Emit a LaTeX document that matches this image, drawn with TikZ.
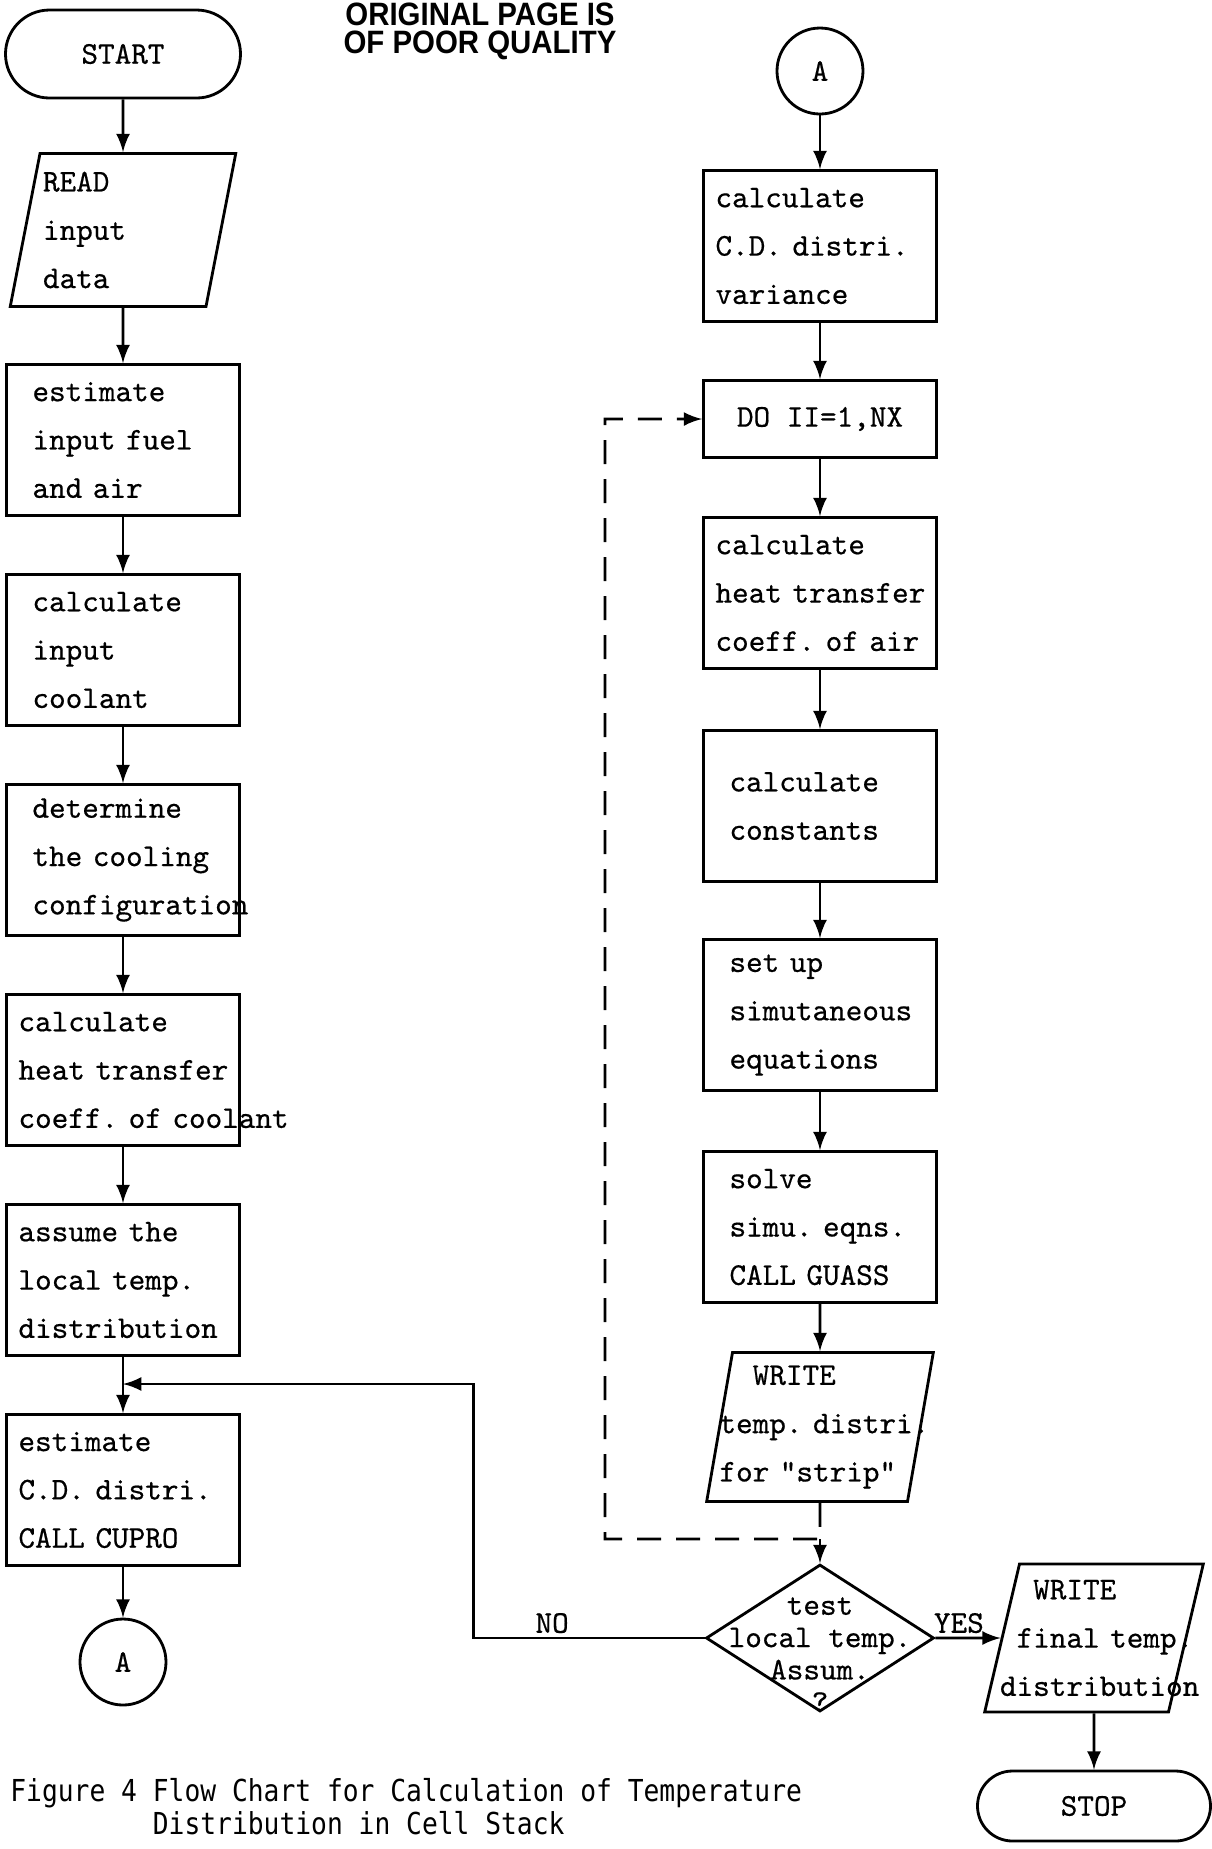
\documentclass[tikz,border=0pt]{standalone}
\usepackage{fontspec}
\usepackage{tikz}
\usetikzlibrary{positioning}
\usetikzlibrary{shapes.geometric}

\newfontfamily\capfont[FakeStretch=0.87]{DejaVu Sans Mono}
\newfontfamily\stampfont[FakeStretch=0.91]{Liberation Sans}
\newfontfamily\typefont[FakeBold=0.5]{lmmono10-regular.otf}
\newcommand{\boxfont}{\fontsize{9}{13.75}\selectfont\typefont}
\frenchspacing

\begin{document}
\begin{tikzpicture}[-latex, node distance = 2.1cm, on grid,
                    thick,
                    font = \boxfont,
                    proc/.style   = {rectangle,
                                     draw,
                                     minimum height = 1.51cm,
                                     text width = 1.81cm,
                                     inner xsep = 0.26cm,
                                     align = left},
                    tproc/.style  = {proc,
                                     text width = 2.09cm,
                                     inner xsep = 0.12cm},
                    io/.style     = {trapezium,
                                     trapezium left angle = 78,
                                     trapezium right angle = 102,
                                     trapezium stretches = true,
                                     draw,
                                     minimum height = 1.53cm,
                                     align = left},
                    term/.style   = {rectangle,
                                     draw,
                                     rounded corners = 0.44cm,
                                     minimum width = 2.35cm,
                                     minimum height = 0.88cm},
                    conn/.style   = {circle,
                                     draw,
                                     minimum size = 0.86cm,
                                     inner sep = 0pt},
                    decide/.style = {diamond,
                                     draw,
                                     minimum width = 2.28cm,
                                     minimum height = 1.47cm,
                                     inner sep = 0pt},
                    loopback/.style = {dash pattern = on 0.24cm off 0.15cm}]

\useasboundingbox (0,0) rectangle (12.11,-18.49);

% stamp and caption
\node[font = \stampfont\bfseries\fontsize{9.2}{9.7}\selectfont, anchor = base, inner sep = 0pt] (stampa) at (4.80,-0.25) {ORIGINAL PAGE IS};
\node[font = \stampfont\bfseries\fontsize{9.2}{9.7}\selectfont, anchor = base, inner sep = 0pt] (stampb) at (4.80,-0.53) {OF POOR QUALITY};
\node[font = \capfont\fontsize{8.6}{9.4}\selectfont, align = left, anchor = north west, inner sep = 0pt] (caption) at (0.09,-17.77) {Figure 4 Flow Chart for Calculation of Temperature\\\phantom{Figure 4 }Distribution in Cell Stack};

% left column
\node[term] (start) at (1.23,-0.54) {START};
\node[io, text width = 1.60cm, inner xsep = 0.03cm] (read) [below = 1.76cm of start] {READ\\input\\data};
\node[proc] (fuel) [below = of read] {estimate\\input fuel\\and air};
\node[proc] (coolant) [below = of fuel] {calculate\\input\\coolant};
\node[proc] (config) [below = of coolant] {determine\\\mbox{the cooling}\\\mbox{configuration}};
\node[tproc] (hcoolant) [below = of config] {calculate\\\mbox{heat transfer}\\\mbox{coeff. of coolant}};
\node[tproc] (assume) [below = of hcoolant] {assume the\\local temp.\\distribution};
\node[tproc] (estcd) [below = of assume] {estimate\\C.D. distri.\\CALL CUPRO};
\node[conn] (conA) [below = 1.72cm of estcd] {A};
\coordinate[below = 1.04cm of assume] (merge);

% right column
\node[conn] (conB) at (8.2,-0.71) {A};
\node[tproc] (cdvar) [below = 1.75cm of conB] {calculate\\C.D. distri.\\variance};
\node[rectangle, draw, minimum width = 2.33cm, minimum height = 0.77cm] (doloop) [below = 1.73cm of cdvar] {DO II=1,NX};
\node[tproc] (hair) [below = 1.74cm of doloop] {calculate\\\mbox{heat transfer}\\\mbox{coeff. of air}};
\node[proc] (consts) [below = 2.13cm of hair] {calculate\\constants};
\node[proc] (setup) [below = 2.09cm of consts] {set up\\\mbox{simutaneous}\\equations};
\node[proc] (solve) [below = 2.12cm of setup] {solve\\\mbox{simu. eqns.}\\CALL GUASS};
\node[io, trapezium left angle = 80, trapezium right angle = 100, minimum height = 1.49cm,
      text width = 2.01cm, inner xsep = -0.13cm] (wstrip) [below = 2.0cm of solve] {\phantom{xx}WRITE\\\mbox{temp. distri.}\\for "strip"};
\coordinate[below = 1.12cm of wstrip] (loopend);
\node[decide, label = {[yshift = -0.165cm, align = center, font = \fontsize{9}{9.2}\selectfont\typefont]center:{test\\local temp.\\Assum.\\?}}] (test) [below = 2.11cm of wstrip] {};
\node[io, trapezium left angle = 76, trapezium right angle = 104, minimum height = 1.48cm,
      text width = 1.88cm, inner xsep = -0.195cm] (wfinal) [right = 2.74cm of test] {\phantom{xx}WRITE\\\mbox{\phantom{x}final temp.}\\\mbox{distribution}};
\node[term, minimum width = 2.33cm, minimum height = 0.70cm, rounded corners = 0.35cm] (stop) [below = 1.68cm of wfinal] {STOP};

\path (start) edge (read);
\path (read) edge (fuel);
\path (fuel) edge (coolant);
\path (coolant) edge (config);
\path (config) edge (hcoolant);
\path (hcoolant) edge (assume);
\path (assume) edge (estcd);
\path (estcd) edge (conA);

\path (conB) edge (cdvar);
\path (cdvar) edge (doloop);
\path (doloop) edge (hair);
\path (hair) edge (consts);
\path (consts) edge (setup);
\path (setup) edge (solve);
\path (solve) edge (wstrip);
\path (loopend) edge (test);
\path (test) edge node[above, pos = 0.36, inner sep = 1pt] {YES} (wfinal);
\path (wfinal) edge (stop);

% loop back to DO
\draw[loopback] (wstrip.south) -- (loopend) -- ++(-2.15,0) |- (doloop.west);
\draw (test.west) -- node[above, pos = 0.66, inner sep = 1pt] {NO} ++(-2.31,0) |- (merge);

\end{tikzpicture}
\end{document}
